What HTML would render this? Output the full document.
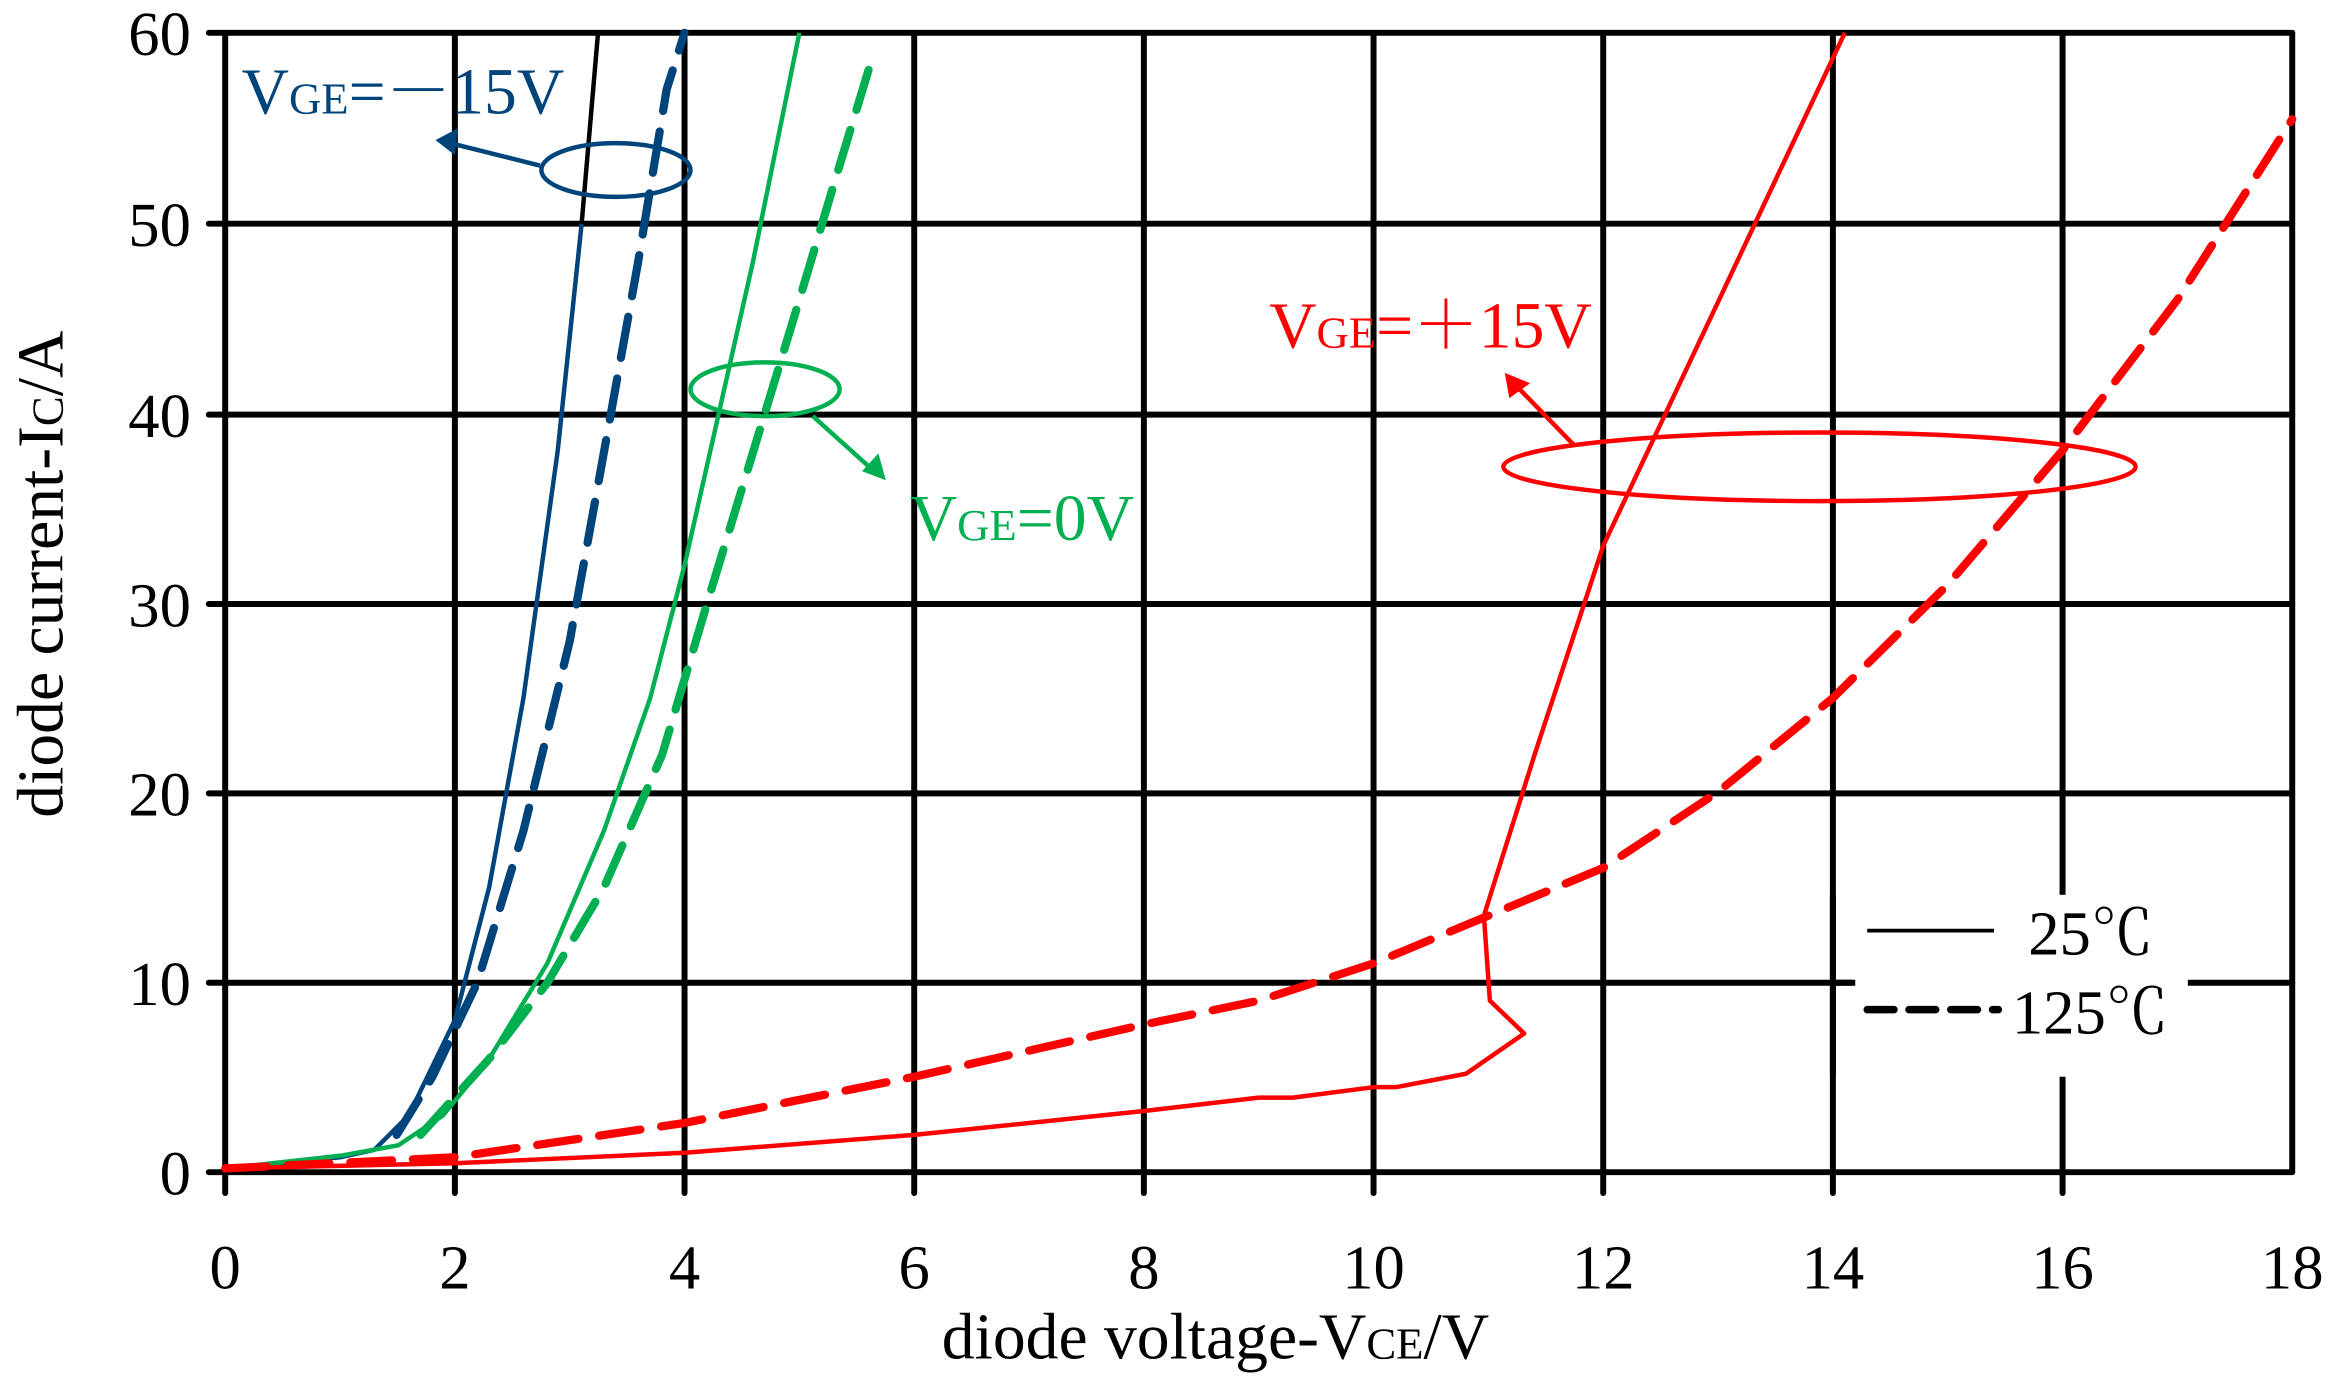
<!DOCTYPE html>
<html><head><meta charset="utf-8"><style>
html,body{margin:0;padding:0;background:#fff;}
svg{display:block;}
text{font-family:"Liberation Serif","Noto Serif CJK SC",serif;}
</style></head><body>
<svg width="2331" height="1392" viewBox="0 0 1563 933.4" preserveAspectRatio="none" xmlns="http://www.w3.org/2000/svg">
<g stroke="#000" stroke-width="4" stroke-linecap="round" fill="none">
<line x1="140" y1="22" x2="1537" y2="22"/>
<line x1="140" y1="150" x2="1537" y2="150"/>
<line x1="140" y1="278" x2="1537" y2="278"/>
<line x1="140" y1="405" x2="1537" y2="405"/>
<line x1="140" y1="532" x2="1537" y2="532"/>
<line x1="140" y1="659" x2="1537" y2="659"/>
<line x1="140" y1="786" x2="1537" y2="786"/>
<line x1="151" y1="22" x2="151" y2="800"/>
<line x1="305" y1="22" x2="305" y2="800"/>
<line x1="459" y1="22" x2="459" y2="800"/>
<line x1="613" y1="22" x2="613" y2="800"/>
<line x1="767" y1="22" x2="767" y2="800"/>
<line x1="921" y1="22" x2="921" y2="800"/>
<line x1="1075" y1="22" x2="1075" y2="800"/>
<line x1="1229" y1="22" x2="1229" y2="800"/>
<line x1="1383" y1="22" x2="1383" y2="800"/>
<line x1="1537" y1="22" x2="1537" y2="786"/>
</g>
<rect x="1242" y="600" width="225" height="122" fill="#fff"/>
<line x1="1229" y1="600" x2="1229" y2="722" stroke="#000" stroke-width="4"/>
<line x1="1229" y1="659" x2="1244" y2="659" stroke="#000" stroke-width="4"/>
<g font-size="42" fill="#000" text-anchor="end">
<text x="128" y="37">60</text><text x="128" y="165">50</text><text x="128" y="293">40</text>
<text x="128" y="420">30</text><text x="128" y="547">20</text><text x="128" y="674">10</text><text x="128" y="801">0</text>
</g>
<g font-size="42" fill="#000" text-anchor="middle">
<text x="151" y="864">0</text><text x="305" y="864">2</text><text x="459" y="864">4</text><text x="613" y="864">6</text>
<text x="767" y="864">8</text><text x="921" y="864">10</text><text x="1075" y="864">12</text><text x="1229" y="864">14</text>
<text x="1383" y="864">16</text><text x="1537" y="864">18</text>
</g>
<text x="815" y="911" font-size="44" text-anchor="middle">diode voltage-V<tspan font-size="30">CE</tspan>/V</text>
<text transform="translate(42,385) rotate(-90)" font-size="44" text-anchor="middle">diode current-I<tspan font-size="30">C</tspan>/A</text>
<g fill="none" stroke-width="3" stroke-linejoin="round">
<polyline stroke="#00447c" points="151,783.5 228,776 251,771 274,748 305,684 328,595 351,468 374,302 390,150"/>
<polyline stroke="#000" points="390,150 401,22"/>
<polyline stroke="#00b050" points="151,783.5 228,775 267,768 297,748 328,710 367,646 405,557 436,468 459,379 482,277 505,175 536,22"/>
<polyline stroke="#ff0000" points="151,783.5 305,780 459,773 613,761 767,745 844,736 867,736 921,729 936,729 983,720 1022,693 999,671 995,614 1029,506 1075,366 1237,22"/>
</g>
<g fill="none" stroke-width="5.5" stroke-dasharray="28,14" stroke-linecap="round" stroke-linejoin="round">
<polyline stroke="#00447c" points="266,761 290,722 320,659 351,557 382,430 405,303 428,175 447,60 459,22"/>
<polyline stroke="#00b050" points="282,761 328,710 367,659 405,595 444,506 474,405 505,303 536,201 559,124 586,35"/>
<polyline stroke="#ff0000" points="151,783.5 305,776 459,753 613,722 767,687 844,671 921,646 998,614 1075,582 1152,531 1229,468 1306,392 1383,302 1460,201 1537,80"/>
</g>
<g fill="none" stroke-width="3">
<ellipse cx="413" cy="114" rx="50" ry="18" stroke="#00447c"/>
<line x1="362" y1="111" x2="302" y2="96" stroke="#00447c"/>
<ellipse cx="513" cy="261" rx="50" ry="18" stroke="#00b050"/>
<line x1="545" y1="279" x2="585" y2="315" stroke="#00b050"/>
<ellipse cx="1220" cy="313" rx="212" ry="23" stroke="#ff0000"/>
<line x1="1055" y1="298" x2="1017" y2="259" stroke="#ff0000"/>
</g>
<polygon points="292,94 307,86 305,104" fill="#00447c"/>
<polygon points="594,322 578,316 589,304" fill="#00b050"/>
<polygon points="1009,250 1026,257 1012,267" fill="#ff0000"/>
<text x="162" y="76" font-size="44" fill="#00447c">V<tspan font-size="30">GE</tspan>=－15V</text>
<text x="610" y="362" font-size="44" fill="#00b050">V<tspan font-size="30">GE</tspan>=0V</text>
<text x="851" y="233" font-size="44" fill="#ff0000">V<tspan font-size="30">GE</tspan>=＋15V</text>
<line x1="1252" y1="624" x2="1337" y2="624" stroke="#000" stroke-width="2.5"/>
<line x1="1252" y1="677" x2="1340" y2="677" stroke="#000" stroke-width="5" stroke-dasharray="18,10" stroke-linecap="round"/>
<text x="1360" y="640" font-size="42">25℃</text>
<text x="1349" y="693" font-size="42">125℃</text>
</svg>
</body></html>
